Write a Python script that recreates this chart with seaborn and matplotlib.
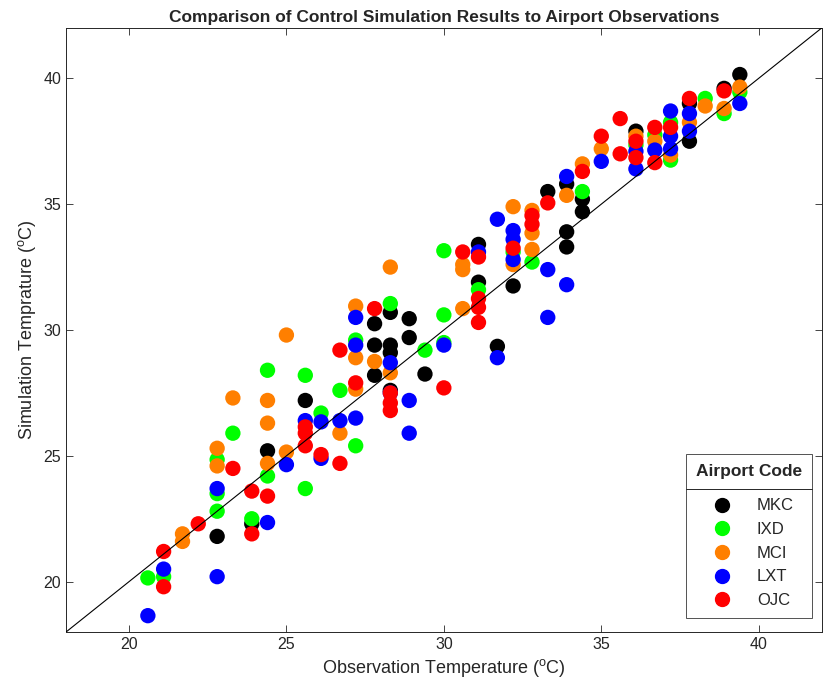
import numpy as np
import pandas as pd
import matplotlib.pyplot as plt
from matplotlib.lines import Line2D
import seaborn as sns

# observed vs simulated temperature (deg C), per airport
mkc_obs = [22.8, 23.9, 24.4, 25.6, 27.8, 27.8, 27.8, 28.3, 28.3, 28.3, 28.3, 28.9, 28.9, 29.4,
           31.1, 31.1, 31.7, 32.2, 33.3, 33.9, 33.9, 33.9, 34.4, 34.4, 36.1, 37.8, 37.8, 38.9, 39.4]
mkc_sim = [21.8, 22.3, 25.2, 27.2, 30.25, 29.4, 28.2, 30.7, 29.4, 29.1, 27.6, 30.45, 29.7, 28.25,
           33.4, 31.9, 29.35, 31.75, 35.5, 35.8, 33.9, 33.3, 35.2, 34.7, 37.9, 39.0, 37.5, 39.6, 40.15]

ixd_obs = [20.6, 21.1, 22.8, 22.8, 22.8, 23.3, 23.9, 24.4, 24.4, 25.6, 25.6, 26.1, 26.7, 27.2, 27.2,
           28.3, 29.4, 30.0, 30.0, 30.0, 31.1, 32.2, 32.8, 34.4, 36.1, 36.7, 37.2, 37.2, 38.3, 38.9, 39.4]
ixd_sim = [20.15, 20.2, 24.85, 23.5, 22.8, 25.9, 22.5, 28.4, 24.2, 28.2, 23.7, 26.7, 27.6, 29.6, 25.4,
           31.05, 29.2, 33.15, 30.6, 29.5, 31.6, 33.1, 32.7, 35.5, 37.35, 37.75, 38.25, 36.75, 39.2, 38.6, 39.45]

mci_obs = [21.7, 21.7, 22.8, 22.8, 23.3, 24.4, 24.4, 24.4, 25.0, 25.0, 26.7, 27.2, 27.2, 27.2, 27.8,
           28.3, 28.3, 30.6, 30.6, 30.6, 32.2, 32.2, 32.8, 32.8, 32.8, 33.9, 34.4, 35.0, 36.1, 36.7,
           37.2, 37.8, 38.3, 38.9, 39.4]
mci_sim = [21.9, 21.6, 25.3, 24.6, 27.3, 27.2, 26.3, 24.7, 29.8, 25.15, 25.9, 30.95, 28.9, 27.65, 28.75,
           32.5, 28.3, 32.6, 32.4, 30.85, 34.9, 32.6, 34.75, 33.85, 33.2, 35.35, 36.6, 37.2, 37.7, 37.5,
           36.95, 38.25, 38.9, 38.8, 39.65]

lxt_obs = [20.6, 21.1, 22.8, 22.8, 24.4, 25.0, 25.6, 26.1, 26.1, 26.7, 27.2, 27.2, 27.2, 28.3, 28.3,
           28.9, 28.9, 30.0, 31.1, 31.7, 31.7, 32.2, 32.2, 32.2, 33.3, 33.3, 33.9, 33.9, 35.0, 36.1,
           36.1, 36.7, 37.2, 37.2, 37.2, 37.8, 37.8, 39.4]
lxt_sim = [18.65, 20.5, 23.7, 20.2, 22.35, 24.65, 26.4, 26.35, 24.9, 26.4, 30.5, 29.4, 26.5, 28.7, 27.5,
           27.2, 25.9, 29.4, 33.1, 34.4, 28.9, 33.95, 33.6, 32.8, 32.4, 30.5, 36.1, 31.8, 36.7, 37.1,
           36.4, 37.15, 38.7, 37.7, 37.2, 38.6, 37.9, 39.0]

ojc_obs = [21.1, 21.1, 22.2, 23.3, 23.9, 23.9, 24.4, 25.6, 25.6, 25.6, 26.1, 26.7, 26.7, 27.2, 27.8,
           28.3, 28.3, 28.3, 30.0, 30.6, 31.1, 31.1, 31.1, 31.1, 32.2, 32.8, 32.8, 33.3, 34.4, 35.0,
           35.6, 35.6, 36.1, 36.1, 36.7, 36.7, 37.2, 37.8, 38.9]
ojc_sim = [19.8, 21.2, 22.3, 24.5, 23.6, 21.9, 23.4, 26.15, 25.9, 25.4, 25.05, 29.2, 24.7, 27.9, 30.85,
           27.5, 27.1, 26.8, 27.7, 33.1, 32.9, 31.25, 30.9, 30.3, 33.25, 34.55, 34.2, 35.05, 36.3, 37.7,
           38.4, 37.0, 37.5, 36.85, 38.05, 36.65, 38.05, 39.2, 39.5]

airports = ['MKC', 'IXD', 'MCI', 'LXT', 'OJC']
colors = ['#000000', '#00ff00', '#ff7f00', '#0000ff', '#ff0000']

obs_all = [mkc_obs, ixd_obs, mci_obs, lxt_obs, ojc_obs]
sim_all = [mkc_sim, ixd_sim, mci_sim, lxt_sim, ojc_sim]

frames = []
for code, xo, ys in zip(airports, obs_all, sim_all):
    frames.append(pd.DataFrame({'obs': xo, 'sim': ys, 'airport': code}))
df = pd.concat(frames, ignore_index=True)

sns.set_style('white')
plt.rcParams['font.family'] = ['Liberation Sans', 'DejaVu Sans']
plt.rcParams['mathtext.fontset'] = 'custom'
plt.rcParams['mathtext.rm'] = 'Liberation Sans'
plt.rcParams['mathtext.it'] = 'Liberation Sans'

fig = plt.figure(figsize=(8.25, 6.94), dpi=100)
ax = fig.add_axes([0.08, 0.0893, 0.916, 0.8704])

sns.scatterplot(data=df, x='obs', y='sim', hue='airport', hue_order=airports,
                palette=dict(zip(airports, colors)), s=122, linewidth=0, alpha=1,
                ax=ax, legend=False, zorder=3)

# 1:1 line
ax.plot([18, 42], [18, 42], color='black', lw=0.8, zorder=4)

ax.set_xlim(18, 42)
ax.set_ylim(18, 42)
ax.set_xticks([20, 25, 30, 35, 40])
ax.set_yticks([20, 25, 30, 35, 40])
ax.tick_params(direction='in', length=5, width=0.6, labelsize=11.5, colors='#262626',
               top=True, right=True, bottom=True, left=True)
for sp in ax.spines.values():
    sp.set_color('#262626')
    sp.set_linewidth(0.7)

ax.set_xlabel('Observation Temperature ($^{\\rm o}$C)', fontsize=13, color='#262626')
ax.set_ylabel('Simulation Temprature ($^{\\rm o}$C)', fontsize=13, color='#262626')
ax.set_title('Comparison of Control Simulation Results to Airport Observations',
             fontsize=12.5, fontweight='bold', pad=4)

handles = [Line2D([], [], marker='o', ls='', color=c, markersize=10) for c in colors]
leg = ax.legend(handles, airports, title='Airport Code', loc='lower right',
                bbox_to_anchor=(0.987, 0.023), borderaxespad=0, frameon=True, fancybox=False,
                edgecolor='#262626', fontsize=12, title_fontsize=12.5,
                handletextpad=1.0, handlelength=2.2, labelspacing=0.52, borderpad=0.6)
leg.get_title().set_fontweight('bold')
leg.get_frame().set_linewidth(0.7)
leg._legend_box.sep = 14  # more room between title and entries

# separator line under legend title
fig.canvas.draw()
inv = fig.transFigure.inverted()
lbox = inv.transform_bbox(leg.get_window_extent())
tbox = inv.transform_bbox(leg.get_title().get_window_extent())
ebox = inv.transform_bbox(leg.get_texts()[0].get_window_extent())
ysep = (tbox.y0 + ebox.y1) / 2
fig.add_artist(Line2D([lbox.x0, lbox.x1], [ysep, ysep], color='#262626', lw=0.7,
                      transform=fig.transFigure))

fig.savefig('out.png', dpi=100)
